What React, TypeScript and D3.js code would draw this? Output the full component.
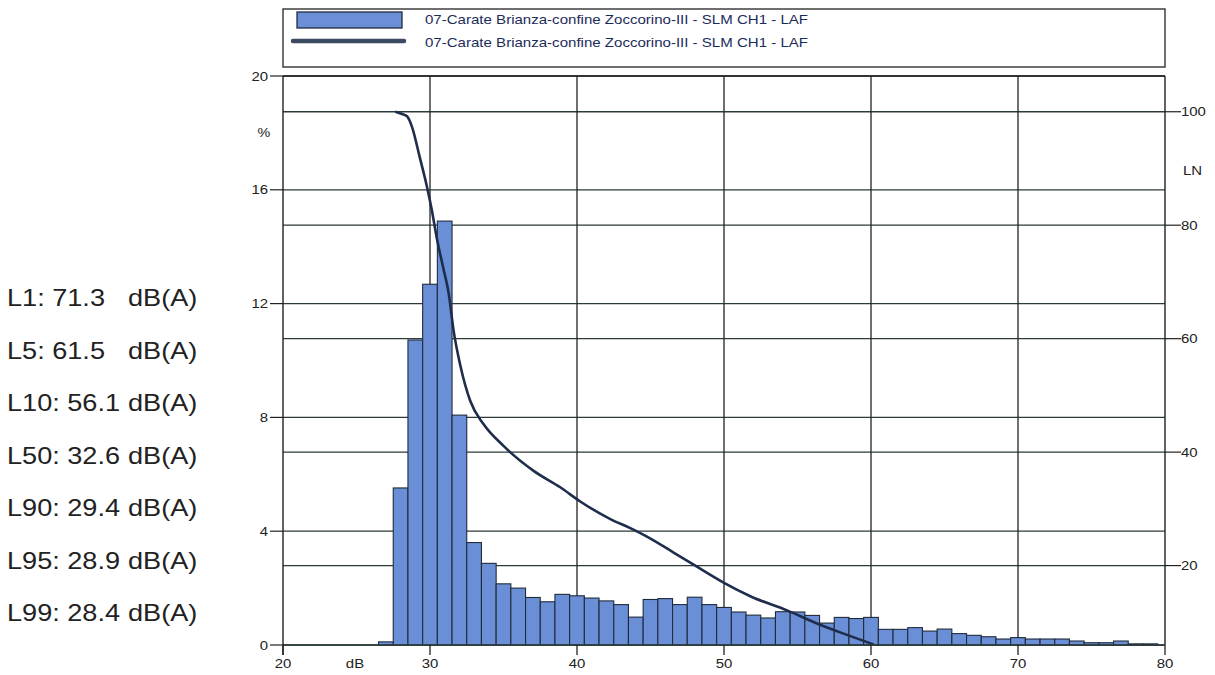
import React from "react";
import * as d3 from "d3";

const binCenters = [27, 28, 29, 30, 31, 32, 33, 34, 35, 36, 37, 38, 39, 40, 41, 42, 43, 44, 45, 46, 47, 48, 49, 50, 51, 52, 53, 54, 55, 56, 57, 58, 59, 60, 61, 62, 63, 64, 65, 66, 67, 68, 69, 70, 71, 72, 73, 74, 75, 76, 77, 78, 79];
const binPercent = [0.11, 5.52, 10.72, 12.68, 14.9, 8.08, 3.6, 2.87, 2.15, 2.0, 1.67, 1.52, 1.78, 1.73, 1.65, 1.55, 1.42, 0.98, 1.6, 1.63, 1.42, 1.68, 1.42, 1.32, 1.16, 1.05, 0.95, 1.17, 1.16, 1.04, 0.77, 0.97, 0.93, 0.97, 0.55, 0.55, 0.61, 0.49, 0.56, 0.4, 0.34, 0.29, 0.21, 0.26, 0.21, 0.21, 0.21, 0.14, 0.08, 0.08, 0.14, 0.04, 0.04];

const curveDb = [27.64, 28.1, 28.44, 28.78, 29.3, 29.8, 30.1, 30.48, 30.9, 31.27, 31.6, 32.06, 32.74, 33.65, 35.0, 37.05, 38.86, 40.22, 42.27, 43.63, 44.76, 46.57, 48.16, 49.97, 51.79, 54.29, 56.33, 58.14, 60.18];
const curveLN = [100, 99.6, 99.2, 97.3, 92.0, 86.7, 83.0, 77.5, 72.5, 68.0, 61.5, 55.3, 49.0, 44.9, 41.1, 36.7, 33.8, 31.3, 28.2, 26.6, 25.1, 22.3, 19.8, 17.0, 14.6, 12.1, 9.8, 8.0, 6.1];

const leftTicks = [0, 4, 8, 12, 16, 20];
const rightTicks = [20, 40, 60, 80, 100];
const xTicks = [20, 30, 40, 50, 60, 70, 80];
const xGrid = [30, 40, 50, 60, 70];

const statLabels = ["L1: 71.3", "L5: 61.5", "L10: 56.1", "L50: 32.6", "L90: 29.4", "L95: 28.9", "L99: 28.4"];
const statUnit = "dB(A)";
const seriesName = "07-Carate Brianza-confine Zoccorino-III - SLM CH1 - LAF";

const L = 283, R = 1165, T = 76, B = 645;
const FONT = "'Liberation Sans', Arial, Helvetica, sans-serif";
const GRID = "#2c3b39";
const BAR_FILL = "#6b8fd6";
const BAR_STROKE = "#1f2b3c";
const CURVE = "#1f2d4c";
const SX = 1.15;

function Txt(props: { x: number; y: number; size: number; anchor?: string; fill?: string; sx?: number; children: React.ReactNode }) {
  const { x, y, size, anchor = "start", fill = "#222", sx = SX, children } = props;
  return (
    <g transform={`translate(${x},${y}) scale(${sx},1)`}>
      <text x={0} y={0} fontSize={size} textAnchor={anchor as any} fill={fill}>{children}</text>
    </g>
  );
}

export default function App() {
  const x = d3.scaleLinear().domain([20, 80]).range([L, R]);
  const yL = d3.scaleLinear().domain([0, 20]).range([B, T]);
  const yR = d3.scaleLinear().domain([6.0, 106.3]).range([B, T]);
  const pts: [number, number][] = curveDb.map((d, i) => [d, curveLN[i]]);
  const line = d3
    .line<[number, number]>()
    .x((p) => x(p[0]))
    .y((p) => yR(p[1]))
    .curve(d3.curveMonotoneX);

  return (
    <svg
      width={1215}
      height={675}
      style={{ position: "absolute", left: 0, top: 0, background: "#fff" }}
      fontFamily={FONT}
    >
      <defs>
        <clipPath id="plotClip">
          <rect x={L} y={T} width={R - L} height={B - T} />
        </clipPath>
      </defs>
      <rect x={0} y={0} width={1215} height={675} fill="#fff" />

      {/* legend */}
      <rect x={L} y={9} width={R - L} height={58} fill="#fff" stroke="#222" strokeWidth={1.3} />
      <rect x={297} y={12} width={105} height={16} fill={BAR_FILL} stroke={BAR_STROKE} strokeWidth={1.3} />
      <line x1={293} x2={404} y1={41} y2={41} stroke="#3b4a60" strokeWidth={4.5} strokeLinecap="round" />
      <text x={425} y={24} fontSize={13.5} fill="#1c2c5a" textLength={383} lengthAdjust="spacingAndGlyphs">{seriesName}</text>
      <text x={425} y={47} fontSize={13.5} fill="#1c2c5a" textLength={383} lengthAdjust="spacingAndGlyphs">{seriesName}</text>

      {/* grid */}
      {leftTicks.map((t) => (
        <line key={"gl" + t} x1={L} x2={R} y1={yL(t)} y2={yL(t)} stroke={GRID} strokeWidth={1.3} />
      ))}
      {rightTicks.map((t) => (
        <line key={"gr" + t} x1={L} x2={R} y1={yR(t)} y2={yR(t)} stroke={GRID} strokeWidth={1.3} />
      ))}
      {xGrid.map((t) => (
        <line key={"gx" + t} x1={x(t)} x2={x(t)} y1={T} y2={B} stroke="#222" strokeWidth={1.3} />
      ))}

      {/* bars */}
      {binCenters.map((c, i) => (
        <rect
          key={"b" + c}
          x={x(c - 0.5)}
          y={yL(binPercent[i])}
          width={x(c + 0.5) - x(c - 0.5)}
          height={B - yL(binPercent[i])}
          fill={BAR_FILL}
          stroke={BAR_STROKE}
          strokeWidth={1.1}
        />
      ))}

      {/* curve */}
      <path d={line(pts) || ""} fill="none" stroke={CURVE} strokeWidth={2.6} clipPath="url(#plotClip)" />

      {/* frame */}
      <line x1={L} x2={L} y1={T} y2={B + 10} stroke="#222" strokeWidth={1.4} />
      <line x1={R} x2={R} y1={T} y2={B} stroke="#222" strokeWidth={1.4} />
      <line x1={L} x2={R} y1={T} y2={T} stroke="#222" strokeWidth={1.4} />
      <line x1={L} x2={R} y1={B} y2={B} stroke={GRID} strokeWidth={1.4} />

      {/* left axis */}
      {leftTicks.map((t) => (
        <g key={"lt" + t}>
          <line x1={270} x2={L} y1={yL(t)} y2={yL(t)} stroke="#222" strokeWidth={1.2} />
          <Txt x={268} y={yL(t) + 4.5} size={13} anchor="end">{t}</Txt>
        </g>
      ))}
      <Txt x={264} y={137} size={12.5} anchor="middle">%</Txt>

      {/* right axis */}
      {rightTicks.map((t) => (
        <g key={"rt" + t}>
          <line x1={R} x2={1181} y1={yR(t)} y2={yR(t)} stroke="#222" strokeWidth={1.2} />
          <Txt x={1181} y={yR(t) + 4.5} size={13}>{t}</Txt>
        </g>
      ))}
      <Txt x={1183} y={175} size={13}>LN</Txt>

      {/* bottom axis */}
      {xTicks.map((t) => (
        <g key={"xt" + t}>
          <line x1={x(t)} x2={x(t)} y1={B} y2={B + 10} stroke="#222" strokeWidth={1.3} />
          <Txt x={x(t)} y={668} size={13} anchor="middle">{t}</Txt>
        </g>
      ))}
      <Txt x={355} y={668} size={13} anchor="middle">dB</Txt>

      {/* stats */}
      {statLabels.map((s, i) => (
        <g key={"s" + i}>
          <Txt x={7} y={306 + i * 52.5} size={24} sx={1.13}>{s}</Txt>
          <Txt x={128} y={306 + i * 52.5} size={24} sx={1.13}>{statUnit}</Txt>
        </g>
      ))}
    </svg>
  );
}
